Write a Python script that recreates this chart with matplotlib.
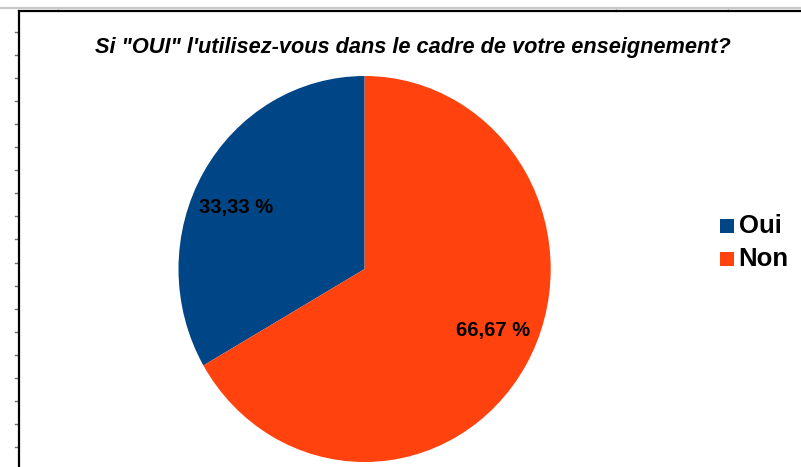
import matplotlib
matplotlib.use('Agg')
import matplotlib.pyplot as plt
from matplotlib.lines import Line2D
from matplotlib.patches import Rectangle

plt.rcParams['font.family'] = ['Liberation Sans', 'DejaVu Sans']

# Data
categories = ['Oui', 'Non']
percentages = [33.33, 66.67]
value_labels = ['33,33 %', '66,67 %']
colors = ['#004586', '#ff420e']
title = 'Si "OUI" l\'utilisez-vous dans le cadre de votre enseignement?'

W, H = 801, 467
fig = plt.figure(figsize=(W / 100, H / 100), dpi=100)

# spreadsheet background bits (grid line on top, row ticks on the left)
fig.add_artist(Line2D([0, 1], [1 - 8 / H, 1 - 8 / H], color='#c8c8c8', lw=1.5))
for xc in [58, 616, 728]:
    fig.add_artist(Line2D([xc / W, xc / W], [1 - 8 / H, 1 - 11 / H], color='#c8c8c8', lw=1))
y = 31.5
while y < H:
    fig.add_artist(Line2D([14.5 / W, 18 / W], [1 - y / H, 1 - y / H], color='#707070', lw=1))
    y += 23.1

# chart frame
fig.add_artist(Line2D([18.5 / W, 18.5 / W], [0, 1 - 11 / H], color='black', lw=1.6))
fig.add_artist(Line2D([18.5 / W, 1], [1 - 11 / H, 1 - 11 / H], color='black', lw=1.6))

# pie axes placed on the pie bounding box
left, right, top, bottom = 178.5, 550.7, 76, 462
ax = fig.add_axes([left / W, 1 - bottom / H, (right - left) / W, (bottom - top) / H])
wedges, texts = ax.pie(percentages, colors=colors, startangle=90, counterclock=True,
                       wedgeprops=dict(linewidth=0))
ax.set_aspect('auto')
ax.set_xlim(-1, 1)
ax.set_ylim(-1, 1)

label_pos = [(-0.69, 0.32), (0.69, -0.32)]
for (lx, ly), txt in zip(label_pos, value_labels):
    ax.text(lx, ly, txt, ha='center', va='center', fontsize=14.5, fontweight='bold',
            color='black')

fig.text(413 / W, 1 - 47 / H, title, ha='center', va='center', fontsize=15.7,
         fontweight='bold', fontstyle='italic', color='black')

# legend
for i, (name, c) in enumerate(zip(categories, colors)):
    yc = 226 + i * 33
    fig.add_artist(Rectangle((720 / W, 1 - (yc + 6.5) / H), 13.5 / W, 13.5 / H,
                             facecolor=c, edgecolor='none', transform=fig.transFigure))
    fig.text(738.5 / W, 1 - yc / H, name, ha='left', va='center', fontsize=18.5,
             fontweight='bold', color='black')

fig.savefig('out.png', dpi=100)
